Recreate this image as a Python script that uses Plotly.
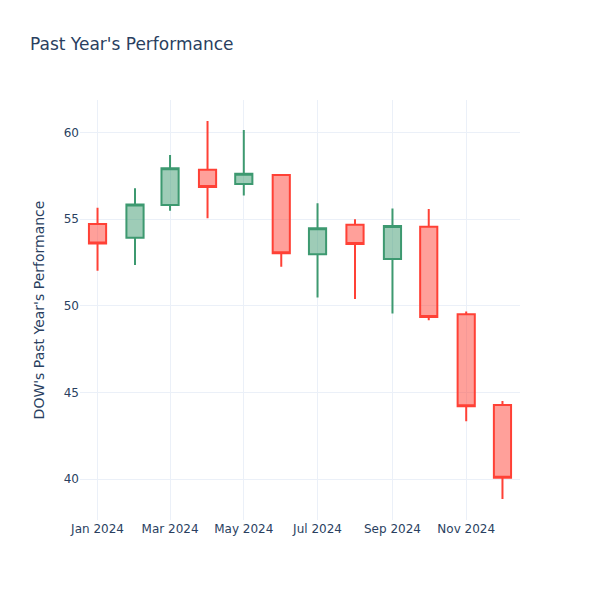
import plotly.graph_objects as go

dates = ["2024-01-01", "2024-02-01", "2024-03-01", "2024-04-01", "2024-05-01", "2024-06-01",
         "2024-07-01", "2024-08-01", "2024-09-01", "2024-10-01", "2024-11-01", "2024-12-01"]
open_ = [54.72, 53.93, 55.81, 57.85, 57.03, 57.55, 52.98, 54.68, 52.70, 54.56, 49.52, 44.28]
high = [55.66, 56.78, 58.70, 60.66, 60.14, 57.55, 55.91, 54.99, 55.62, 55.58, 49.68, 44.51]
low = [52.02, 52.35, 55.49, 55.05, 56.37, 52.25, 50.48, 50.40, 49.56, 49.17, 43.34, 38.86]
close = [53.60, 55.85, 57.93, 56.85, 57.62, 53.03, 54.47, 53.56, 54.60, 49.36, 44.21, 40.09]

fig = go.Figure(go.Candlestick(x=dates, open=open_, high=high, low=low, close=close))
fig.update_layout(
    template="plotly_white",
    width=600, height=600,
    font=dict(family="DejaVu Sans"),
    margin=dict(l=72, r=88, t=92, b=88),
    title=dict(text="Past Year's Performance", x=22 / 600, xanchor="left",
               y=1 - 36 / 600, yanchor="middle"),
    yaxis_title="DOW's Past Year's Performance",
    xaxis_rangeslider_visible=False,
)
fig.write_html("out.html")
